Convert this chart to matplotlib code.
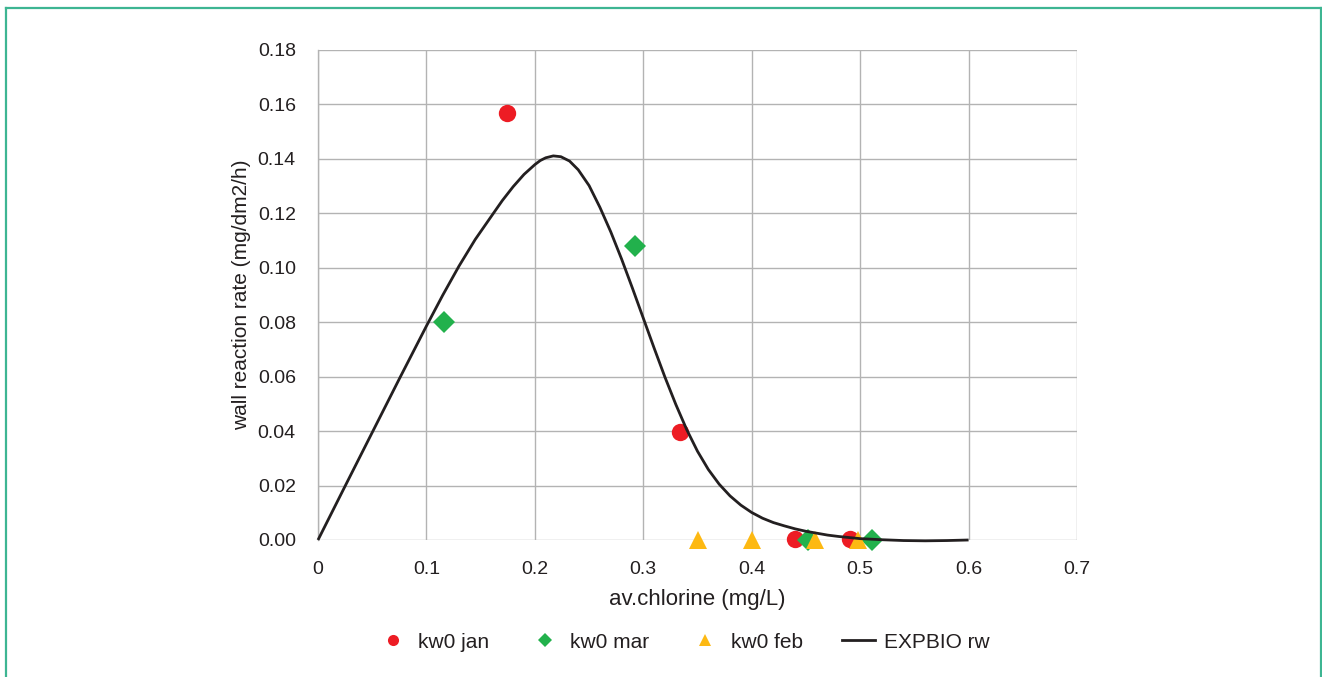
import matplotlib
matplotlib.use("Agg")
import matplotlib.pyplot as plt
from matplotlib.lines import Line2D

plt.rcParams['font.family'] = ['Liberation Sans', 'DejaVu Sans']

# Data
jan_x = [0.174, 0.334, 0.440, 0.491]
jan_y = [0.157, 0.0395, 0.0003, 0.0003]
mar_x = [0.116, 0.292, 0.452, 0.511]
mar_y = [0.080, 0.108, 0.0, 0.0]
feb_x = [0.350, 0.400, 0.458, 0.498]
feb_y = [0.0, 0.0, 0.0, 0.0]

curve_x = [0.000, 0.025, 0.050, 0.075, 0.100, 0.115, 0.130, 0.145, 0.160, 0.170,
           0.180, 0.190, 0.200, 0.205, 0.210, 0.217, 0.224, 0.232, 0.240, 0.250,
           0.260, 0.270, 0.280, 0.290, 0.300, 0.310, 0.320, 0.330, 0.340, 0.350,
           0.360, 0.370, 0.380, 0.390, 0.400, 0.410, 0.420, 0.430, 0.440, 0.450,
           0.460, 0.470, 0.480, 0.490, 0.500, 0.520, 0.540, 0.560, 0.580, 0.600]
curve_y = [0.0000, 0.0198, 0.0395, 0.0592, 0.0786, 0.0899, 0.1006, 0.1104, 0.1190, 0.1247,
           0.1298, 0.1343, 0.1379, 0.1394, 0.1404, 0.1411, 0.1408, 0.1392, 0.1360, 0.1302,
           0.1222, 0.1132, 0.1032, 0.0925, 0.0815, 0.0705, 0.0598, 0.0498, 0.0406, 0.0326,
           0.0259, 0.0205, 0.0162, 0.0128, 0.0101, 0.0080, 0.0064, 0.0052, 0.0041, 0.0032,
           0.0025, 0.0018, 0.0013, 0.0009, 0.0005, 0.0001, -0.0002, -0.0003, -0.0002, 0.0000]

xticks = [0, 0.1, 0.2, 0.3, 0.4, 0.5, 0.6, 0.7]
xtick_labels = ["0", "0.1", "0.2", "0.3", "0.4", "0.5", "0.6", "0.7"]
yticks = [0.00, 0.02, 0.04, 0.06, 0.08, 0.10, 0.12, 0.14, 0.16, 0.18]
ytick_labels = ["%.2f" % v for v in yticks]

RED = "#ED1C24"
GREEN = "#22B14C"
YELLOW = "#FDB913"
BLACK = "#231F20"
GRID = "#B3B3B3"
TEXT = "#231F20"

fig = plt.figure(figsize=(13.22, 6.77), dpi=100)
ax = fig.add_axes([318/1322, 1-540/677, (1077-318)/1322, (540-50)/677])

ax.plot(jan_x, jan_y, 'o', color=RED, markersize=12.5, markeredgewidth=0, label="kw0 jan", zorder=3, clip_on=False)
ax.plot(mar_x, mar_y, 'D', color=GREEN, markersize=11, markeredgewidth=0, label="kw0 mar", zorder=3, clip_on=False)
ax.plot(feb_x, feb_y, '^', color=YELLOW, markersize=13.5, markeredgewidth=0, label="kw0 feb", zorder=3, clip_on=False)
ax.plot(curve_x, curve_y, '-', color=BLACK, linewidth=2.0, label="EXPBIO rw", zorder=4,
        clip_on=False, solid_joinstyle='round', solid_capstyle='butt')

ax.set_xlim(0, 0.7)
ax.set_ylim(0, 0.18)
ax.set_xticks(xticks)
ax.set_xticklabels(xtick_labels)
ax.set_yticks(yticks)
ax.set_yticklabels(ytick_labels)
ax.tick_params(axis='both', length=0, labelsize=14, colors=TEXT)
ax.tick_params(axis='y', pad=16)
ax.tick_params(axis='x', pad=15)
ax.grid(True, color=GRID, linewidth=1.0, zorder=0)
ax.set_axisbelow(True)
for s in ['top', 'right', 'bottom']:
    ax.spines[s].set_visible(False)
ax.spines['left'].set_color(GRID)
ax.spines['left'].set_linewidth(1.0)

ax.set_xlabel("av.chlorine (mg/L)", fontsize=16, color=TEXT, labelpad=8)
ax.set_ylabel("wall reaction rate (mg/dm2/h)", fontsize=15, color=TEXT, labelpad=5)

handles = [
    Line2D([], [], marker='o', linestyle='None', color=RED, markersize=8, markeredgewidth=0),
    Line2D([], [], marker='D', linestyle='None', color=GREEN, markersize=7, markeredgewidth=0),
    Line2D([], [], marker='^', linestyle='None', color=YELLOW, markersize=9, markeredgewidth=0),
    Line2D([], [], linestyle='-', color=BLACK, linewidth=2.0),
]
labels = ["kw0 jan", "kw0 mar", "kw0 feb", "EXPBIO rw"]
fig.legend(handles, labels, loc='center', bbox_to_anchor=(683/1322, 1-642/677), ncol=4,
           frameon=False, fontsize=15, columnspacing=1.9, handlelength=1.55, handletextpad=0.45,
           labelcolor=TEXT)

# Outer border (open at the bottom)
bc = "#3DB592"
fig.add_artist(Line2D([6/1322, 6/1322], [0, 1-8/677], transform=fig.transFigure, color=bc, linewidth=1.6))
fig.add_artist(Line2D([6/1322, 1321/1322], [1-8/677, 1-8/677], transform=fig.transFigure, color=bc, linewidth=1.6))
fig.add_artist(Line2D([1321/1322, 1321/1322], [0, 1-8/677], transform=fig.transFigure, color=bc, linewidth=1.6))

fig.savefig("out.png", dpi=100)
